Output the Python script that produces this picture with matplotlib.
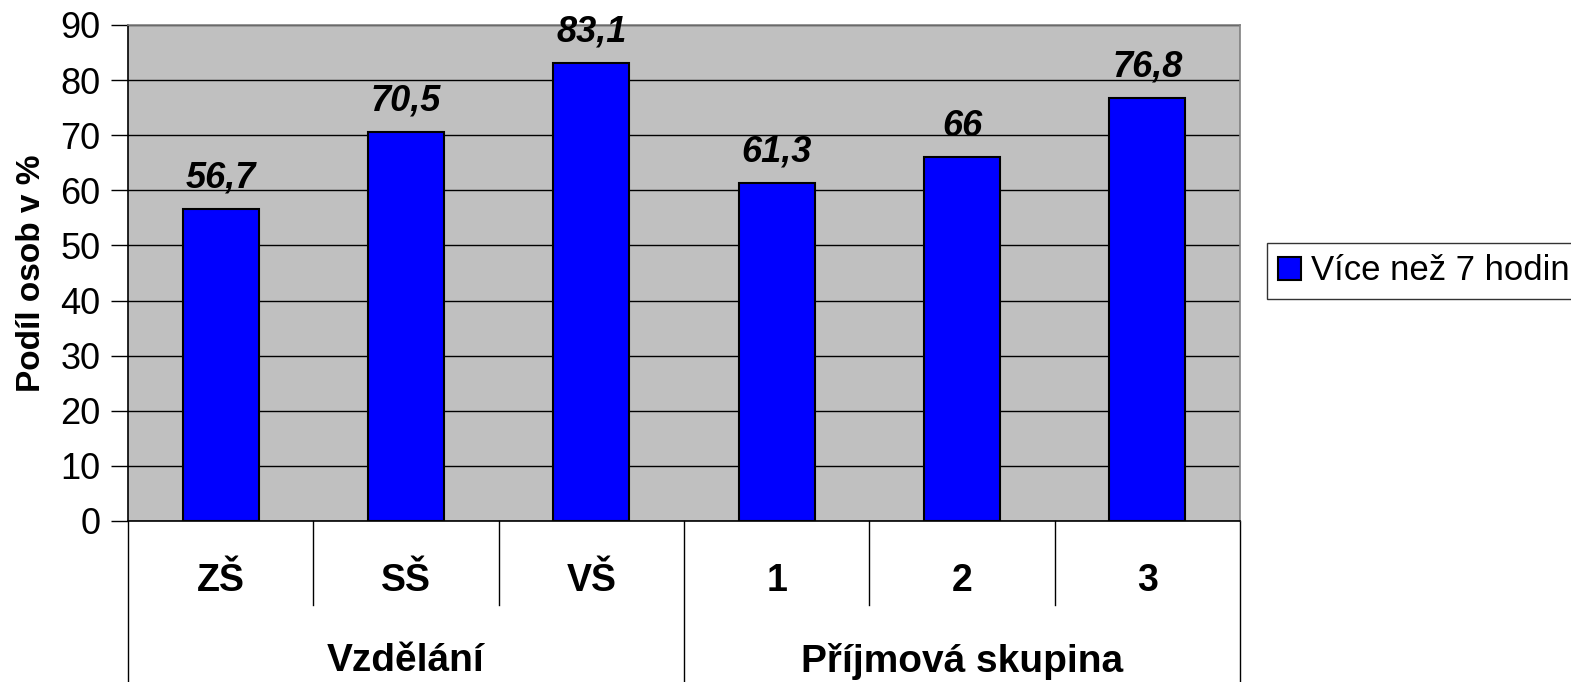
import matplotlib
matplotlib.use("Agg")
import matplotlib.pyplot as plt
import matplotlib.transforms as mtransforms

categories = ["ZŠ", "SŠ", "VŠ", "1", "2", "3"]
values = [56.7, 70.5, 83.1, 61.3, 66, 76.8]
value_labels = ["56,7", "70,5", "83,1", "61,3", "66", "76,8"]
groups = ["Vzdělání", "Příjmová skupina"]
group_sizes = [3, 3]
series_name = "Více než 7 hodin"
y_label = "Podíl osob v %"
y_ticks = [0, 10, 20, 30, 40, 50, 60, 70, 80, 90]

plt.rcParams['font.family'] = ['Liberation Sans', 'DejaVu Sans']

fig = plt.figure(figsize=(15.71, 6.82), dpi=100)
ax = fig.add_axes([128/1571, 1 - 521/682, (1240-128)/1571, (521-25)/682])
ax.set_facecolor('#C0C0C0')

x = list(range(len(categories)))
bars = ax.bar(x, values, width=0.41, color='#0000FF', edgecolor='black',
              linewidth=1.5, label=series_name, zorder=3)
for xi, v, lab in zip(x, values, value_labels):
    ax.text(xi, v + 3.9, lab, ha='center', va='baseline', fontsize=26,
            fontweight='bold', fontstyle='italic', zorder=4)

ax.set_xlim(-0.5, len(categories) - 0.5)
ax.set_ylim(0, 90)
ax.set_yticks(y_ticks)
ax.tick_params(axis='y', labelsize=26, length=12, width=1, direction='out', pad=8)
ax.set_xticks([])
ax.yaxis.grid(True, color='black', linewidth=1, zorder=1)
ax.set_axisbelow(True)

for s in ['top', 'right']:
    ax.spines[s].set_color('#808080')
    ax.spines[s].set_linewidth(1.2)
for s in ['left', 'bottom']:
    ax.spines[s].set_color('black')
    ax.spines[s].set_linewidth(1.2)

ax.set_ylabel(y_label, fontsize=24, fontweight='bold', labelpad=9)

# Multi-level category axis
trans = mtransforms.blended_transform_factory(ax.transData, ax.transAxes)
ax_h = (521 - 25)
lvl1_bottom = -(605 - 521) / ax_h
lvl2_bottom = -(682 - 521) / ax_h
for xi, c in zip(x, categories):
    ax.text(xi, -(581 - 521) / ax_h, c, transform=trans, ha='center', va='center',
            fontsize=27, fontweight='bold')
boundaries = [i - 0.5 for i in range(len(categories) + 1)]
group_edges = [-0.5]
acc = -0.5
for gs in group_sizes:
    acc += gs
    group_edges.append(acc)
for b in boundaries:
    bottom = lvl2_bottom if b in group_edges else lvl1_bottom
    ax.plot([b, b], [0, bottom], transform=trans, color='black', linewidth=1,
            clip_on=False)
start = -0.5
for g, gs in zip(groups, group_sizes):
    center = start + gs / 2
    ax.text(center, -(661 - 521) / ax_h, g, transform=trans, ha='center', va='center',
            fontsize=28, fontweight='bold')
    start += gs

leg = ax.legend(loc='center left', bbox_to_anchor=((1267 - 128) / 1112, (521 - 271) / ax_h),
                fontsize=25, frameon=True, fancybox=False, edgecolor='black',
                handlelength=0.65, handleheight=0.65, handletextpad=0.3,
                borderpad=0.32, borderaxespad=0)
leg.get_frame().set_linewidth(1)

fig.savefig('out.png', dpi=100, facecolor='white')
